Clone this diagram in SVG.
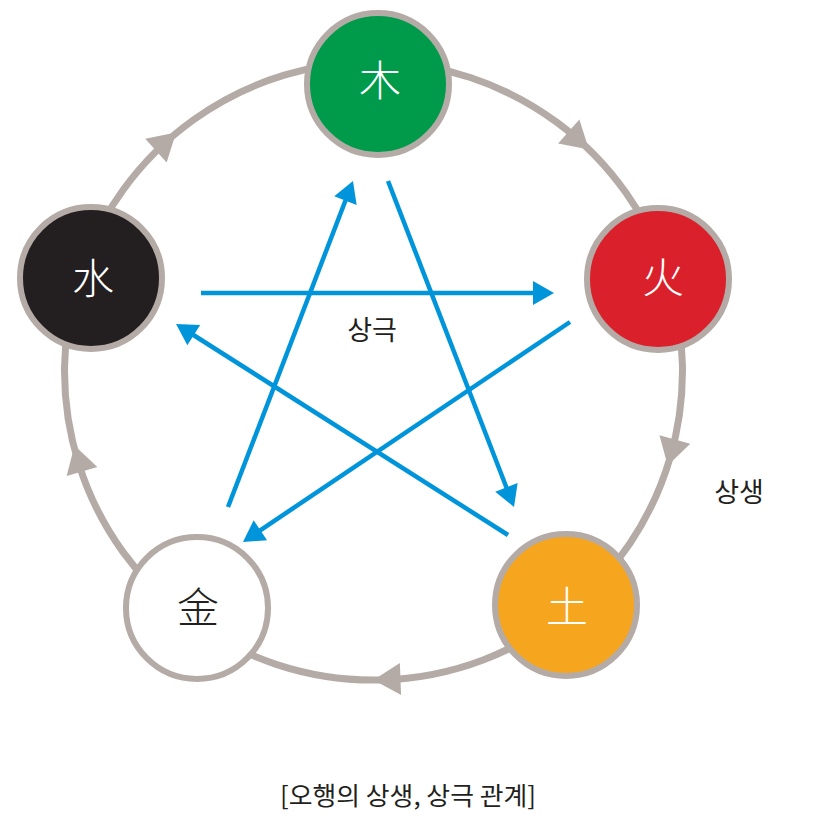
<svg xmlns="http://www.w3.org/2000/svg" xmlns:xlink="http://www.w3.org/1999/xlink" width="818" height="825" viewBox="0 0 818 825">
  <style>
    .ring { fill: none; stroke: #b4aba7; stroke-width: 7; }
    .ringhead { fill: #b4aba7; }
    .ke { fill: none; stroke: #0095da; stroke-width: 4.5; marker-end: url(#blueArrow); }
    .node { stroke: #b4aba7; stroke-width: 6; }
    .han { font-family: "Noto Sans CJK SC", "Noto Sans CJK TC", sans-serif; font-size: 42px; font-weight: 300; text-anchor: middle; }
    .lbl { font-family: "Noto Sans CJK KR", sans-serif; font-size: 27px; fill: #231f20; text-anchor: middle; }
    .cap { font-family: "Noto Sans CJK KR", sans-serif; font-size: 25px; fill: #231f20; text-anchor: middle; }
  </style>
  <defs>
    <path id="ringArrow" class="ringhead" d="M0,0 L-27,-16 L-27,16 Z"/>
    <marker id="blueArrow" markerUnits="userSpaceOnUse" viewBox="0 -13 22 26" refX="6" refY="0" markerWidth="22" markerHeight="26" orient="auto" overflow="visible">
      <path d="M0,-12 L21,0 L0,12 Z" fill="#0095da"/>
    </marker>
  </defs>
  <rect width="818" height="825" fill="#ffffff"/>

  <g id="connectors">
    <!-- 상생 cycle (ring arcs) -->
    <path class="ring" d="M378.4,62 A309,309 0 0 1 667.5,276"/>
    <path class="ring" d="M667.5,276 A309,309 0 0 1 569.6,609.8"/>
    <path class="ring" d="M569.6,609.8 A309,309 0 0 1 188.8,618.8"/>
    <path class="ring" d="M188.8,618.8 A309,309 0 0 1 80,274.5"/>
    <path class="ring" d="M80,274.5 A309,309 0 0 1 378.4,62"/>
    <use xlink:href="#ringArrow" href="#ringArrow" transform="translate(588.9,149.5) rotate(41.7)"/>
    <use xlink:href="#ringArrow" href="#ringArrow" transform="translate(667.7,465.5) rotate(105.4)"/>
    <use xlink:href="#ringArrow" href="#ringArrow" transform="translate(373.5,680) rotate(177.8)"/>
    <use xlink:href="#ringArrow" href="#ringArrow" transform="translate(74.5,445.5) rotate(253.8)"/>
    <use xlink:href="#ringArrow" href="#ringArrow" transform="translate(176,132.5) rotate(318)"/>
    <!-- 상극 star -->
    <line class="ke" x1="201" y1="293" x2="539" y2="293"/>
    <line class="ke" x1="228" y1="507" x2="347.6" y2="195"/>
    <line class="ke" x1="388" y1="181" x2="508.6" y2="493"/>
    <line class="ke" x1="570" y1="322" x2="255.4" y2="533.6"/>
    <line class="ke" x1="508" y1="535" x2="188.7" y2="332"/>
  </g>

  <g id="node-wood">
    <circle class="node" cx="378" cy="84" r="71" fill="#009a4b"/>
    <text class="han" x="380" y="96" fill="#ffffff">木</text>
  </g>
  <g id="node-fire">
    <circle class="node" cx="658" cy="279" r="71" fill="#da212b"/>
    <text class="han" x="663" y="293" fill="#ffffff">火</text>
  </g>
  <g id="node-earth">
    <circle class="node" cx="566" cy="605" r="71" fill="#f6a51e"/>
    <text class="han" x="567" y="622" fill="#ffffff">土</text>
  </g>
  <g id="node-metal">
    <circle class="node" cx="197" cy="608" r="71" fill="#ffffff"/>
    <text class="han" x="198" y="623" fill="#231f20">金</text>
  </g>
  <g id="node-water">
    <circle class="node" cx="91" cy="278" r="71" fill="#231f20"/>
    <text class="han" x="93" y="294" fill="#ffffff">水</text>
  </g>

  <g id="labels">
    <text class="lbl" x="372" y="340">상극</text>
    <text class="lbl" x="739" y="502">상생</text>
    <text class="cap" x="408" y="805" textLength="256" lengthAdjust="spacingAndGlyphs">[오행의 상생, 상극 관계]</text>
  </g>
</svg>
